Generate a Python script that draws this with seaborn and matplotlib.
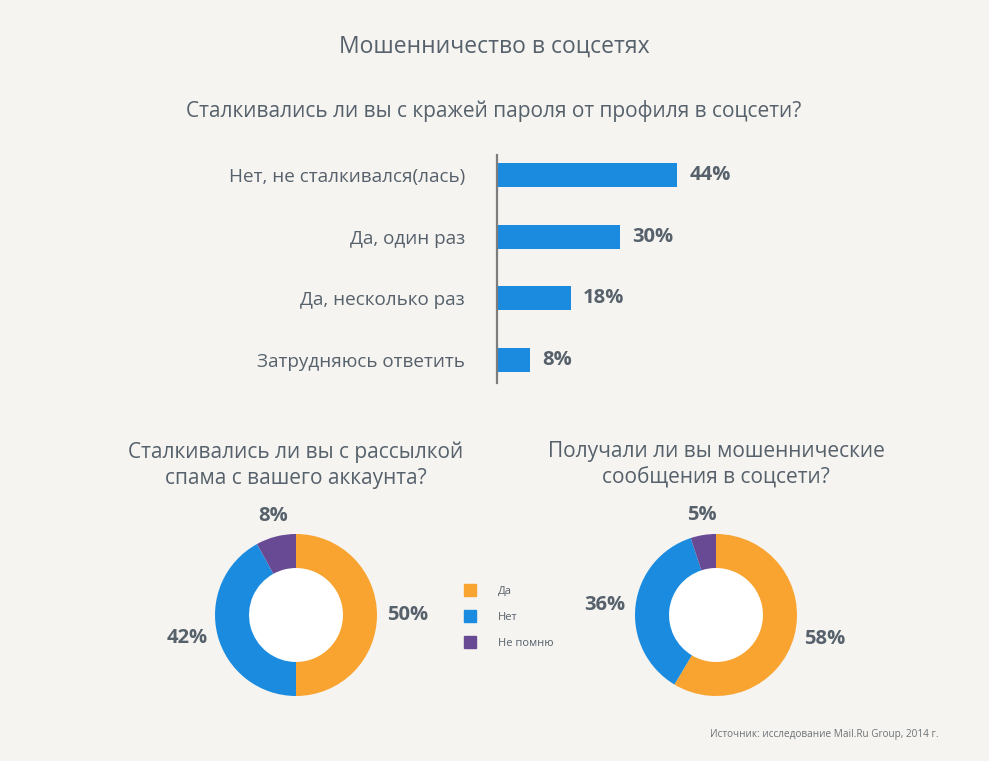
import matplotlib
matplotlib.use("Agg")
import matplotlib.pyplot as plt
import seaborn as sns
import pandas as pd
import numpy as np

# Данные
bar_labels = ["Нет, не сталкивался(лась)", "Да, один раз", "Да, несколько раз", "Затрудняюсь ответить"]
bar_values = [44, 30, 18, 8]

pie_labels = ["Да", "Нет", "Не помню"]
spam_values = [50, 42, 8]
fraud_values = [58, 36, 5]

title = "Мошенничество в соцсетях"
bar_title = "Сталкивались ли вы с кражей пароля от профиля в соцсети?"
spam_title = "Сталкивались ли вы с рассылкой\nспама с вашего аккаунта?"
fraud_title = "Получали ли вы мошеннические\nсообщения в соцсети?"
source = "Источник: исследование Mail.Ru Group, 2014 г."

BG = "#f5f4f0"
TXT = "#56616c"
BLUE = "#1b8be0"
ORANGE = "#f9a431"
PURPLE = "#684a94"

sns.set_theme(style="white")
plt.rcParams["font.family"] = ["Open Sans", "DejaVu Sans"]

W, H = 989, 761
fig = plt.figure(figsize=(W / 100, H / 100), dpi=100, facecolor=BG)


def px_axes(x0, y0, x1, y1):
    # прямоугольник в пикселях (сверху вниз) -> координаты фигуры
    return fig.add_axes([x0 / W, 1 - y1 / H, (x1 - x0) / W, (y1 - y0) / H])


fig.text(494 / W, 1 - 47 / H, title, ha="center", va="center", fontsize=16.5, color=TXT)
fig.text(494 / W, 1 - 111 / H, bar_title, ha="center", va="center", fontsize=15, color=TXT)

## Горизонтальные столбцы
df = pd.DataFrame({"label": bar_labels, "value": bar_values})
ax = px_axes(497, 138, 897, 397)
ax.set_facecolor("none")
sns.barplot(data=df, x="value", y="label", ax=ax, color=BLUE, width=0.39,
            saturation=1, linewidth=0, edgecolor="none")
ax.set_xlim(0, 97.8)
ax.set_ylim(3.6, -0.6)
ax.set_xlabel("")
ax.set_ylabel("")
ax.set_xticks([])
for s in ["top", "right", "bottom"]:
    ax.spines[s].set_visible(False)
ax.spines["left"].set_color("#7d7d7d")
ax.spines["left"].set_linewidth(1.6)
ax.spines["left"].set_bounds(3.37, -0.33)
ax.tick_params(axis="y", length=0, pad=23, labelsize=13.6, labelcolor=TXT)
for p, v in zip(ax.patches, bar_values):
    ax.annotate(f"{v}%", (p.get_width(), p.get_y() + p.get_height() / 2),
                xytext=(9, 0), textcoords="offset points", ha="left", va="center",
                fontsize=14.5, fontweight="bold", color=TXT)

## Кольцевые диаграммы
colors = [ORANGE, BLUE, PURPLE]


def donut(cx, cy, values, heading):
    r = 81
    half = r * 1.6
    a = px_axes(cx - half, cy - half, cx + half, cy + half)
    wedges, _ = a.pie(values, colors=colors, startangle=90, counterclock=False,
                      wedgeprops=dict(width=0.42, edgecolor="none"))
    a.add_patch(plt.Circle((0, 0), 0.58, color="white", zorder=0))
    a.set_xlim(-1.6, 1.6)
    a.set_ylim(-1.6, 1.6)
    a.set_aspect("equal")
    a.axis("off")
    # подписи снаружи кольца, выровненные наружу
    for w, v in zip(wedges, values):
        ang = np.deg2rad((w.theta1 + w.theta2) / 2)
        c, s = np.cos(ang), np.sin(ang)
        ha = "left" if c > 0.3 else ("right" if c < -0.3 else "center")
        va = "bottom" if s > 0.7 else ("top" if s < -0.7 else "center")
        a.text(1.13 * c, 1.13 * s, f"{v}%", ha=ha, va=va, fontsize=14.5,
               fontweight="bold", color=TXT)
    fig.text(cx / W, 1 - 465 / H, heading, ha="center", va="center", fontsize=15,
             color=TXT, linespacing=1.3)


donut(296, 615, spam_values, spam_title)
donut(716, 615, fraud_values, fraud_title)

## Легенда
for i, (lab, c) in enumerate(zip(pie_labels, colors)):
    y = 590 + i * 26
    fig.patches.append(plt.Rectangle(((470 - 6) / W, 1 - (y + 6) / H), 12 / W, 12 / H,
                                     transform=fig.transFigure, color=c, figure=fig))
    fig.text(498 / W, 1 - (y + 1) / H, lab, ha="left", va="center", fontsize=8, color=TXT)

fig.text(938 / W, 1 - 735 / H, source, ha="right", va="center", fontsize=7.2, color="#6e7377")

fig.savefig("out.png", dpi=100, facecolor=BG)
